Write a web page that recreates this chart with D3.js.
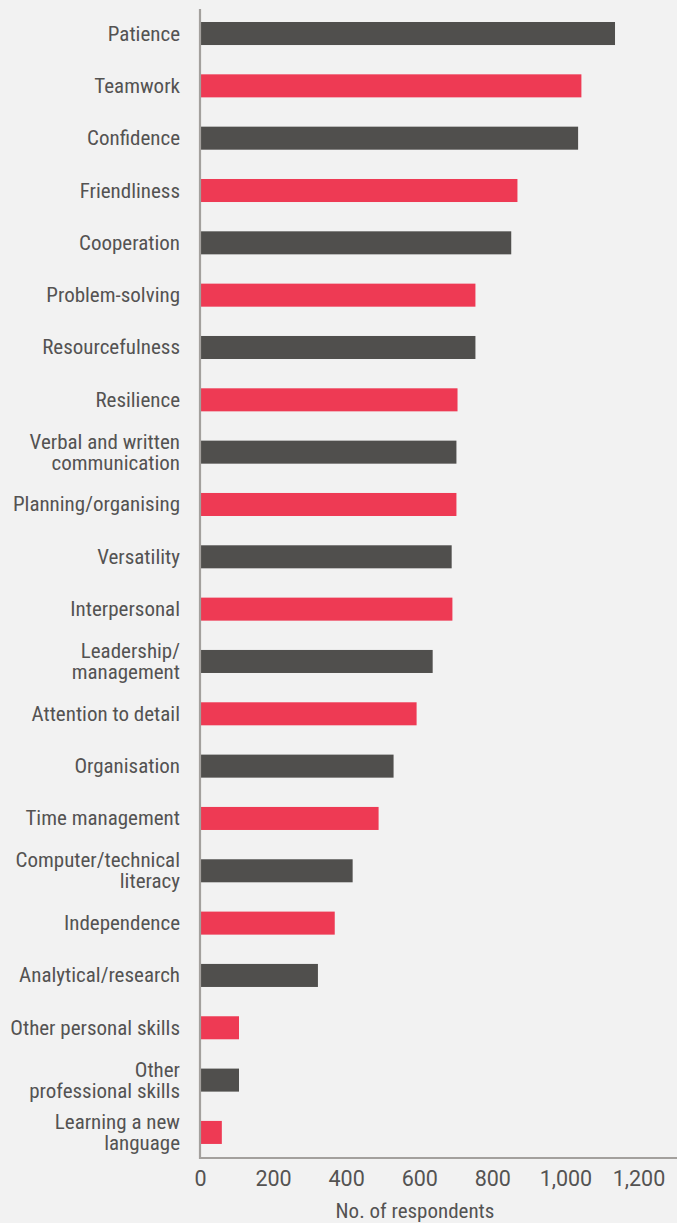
<!DOCTYPE html>
<html><head><meta charset="utf-8">
<script src="https://cdn.jsdelivr.net/npm/d3@7"></script>
<style>
html,body{margin:0;padding:0;background:#f2f2f2;}
svg{display:block;}
text{font-family:"Liberation Sans Narrow","Roboto Condensed",Roboto,"Liberation Sans",sans-serif;fill:#545352;}
</style></head>
<body><svg id="c" width="677" height="1223"></svg>
<script>
const categories = ["Patience","Teamwork","Confidence","Friendliness","Cooperation","Problem-solving","Resourcefulness","Resilience","Verbal and written|communication","Planning/organising","Versatility","Interpersonal","Leadership/|management","Attention to detail","Organisation","Time management","Computer/technical|literacy","Independence","Analytical/research","Other personal skills","Other|professional skills","Learning a new|language"];
const values = [1133,1041,1032,866,849,751,751,702,699,699,686,688,634,590,527,486,415,366,320,104,104,57];
const tickValues = [0,200,400,600,800,1000,1200];
const colors = ["#504f4d","#ee3a54"];

const svg = d3.select("#c");
const x = d3.scaleLinear().domain([0,1200]).range([201,639.5]);
const y = d3.scaleBand().domain(d3.range(categories.length)).range([7.35,1158.6]).paddingInner(0.56).paddingOuter(0.28);

svg.selectAll("rect.bar").data(values).join("rect")
  .attr("class","bar")
  .attr("x", x(0))
  .attr("y", (d,i)=>y(i))
  .attr("width", d=>x(d)-x(0))
  .attr("height", y.bandwidth())
  .attr("fill", (d,i)=>colors[i%2]);

// category labels
const lab = svg.selectAll("text.cat").data(categories).join("text")
  .attr("class","cat")
  .attr("text-anchor","end")
  .style("font-size","21px");
lab.each(function(d,i){
  const lines = d.split("|");
  const cy = y(i)+y.bandwidth()/2;
  const lh = 21;
  const t = d3.select(this);
  lines.forEach((l,j)=>{
    t.append("tspan").attr("x",180)
     .attr("y", cy + (j-(lines.length-1)/2)*lh + 7)
     .text(l);
  });
});

// axes lines
svg.append("line").attr("x1",200).attr("x2",200).attr("y1",9).attr("y2",1159)
  .attr("stroke","#a3a09d").attr("stroke-width",2.2);
svg.append("line").attr("x1",199).attr("x2",677).attr("y1",1158).attr("y2",1158)
  .attr("stroke","#a3a09d").attr("stroke-width",2.2);

const fmt = d3.format(",");
const ax = svg.append("g").attr("transform","translate(-1,1158)")
  .call(d3.axisBottom(x).tickValues(tickValues).tickFormat(fmt).tickSize(0).tickPadding(13));
ax.select(".domain").remove();
ax.selectAll("text").style("font-size","21.5px").attr("fill","#545352")
  .style("font-family","'Liberation Sans Narrow',Roboto,'Liberation Sans',sans-serif");

svg.append("text").attr("x",415).attr("y",1218).attr("text-anchor","middle")
  .style("font-size","21px").text("No. of respondents");
</script></body></html>
